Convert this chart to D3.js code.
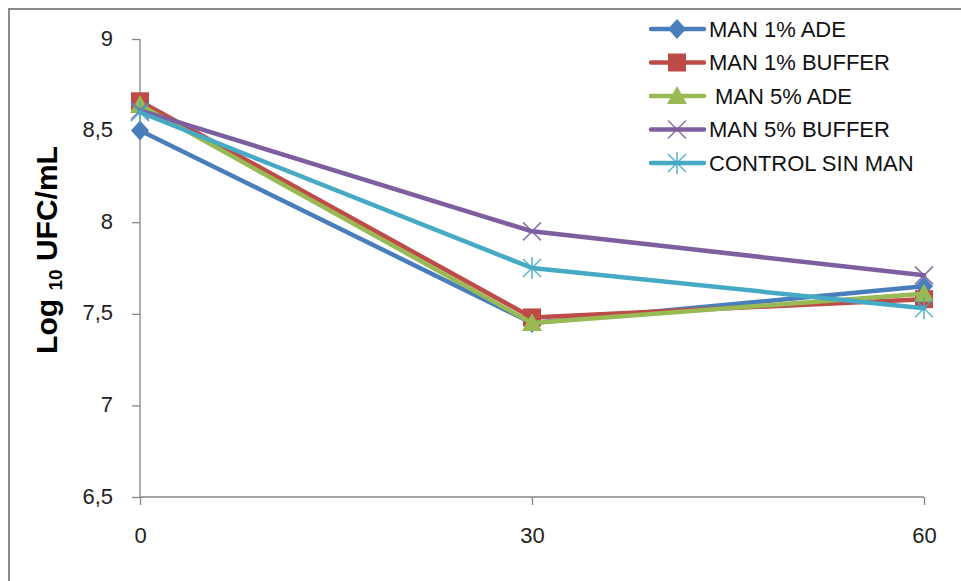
<!DOCTYPE html>
<html>
<head>
<meta charset="utf-8">
<script src="https://cdn.jsdelivr.net/npm/d3@7"></script>
<style>
  html, body { margin: 0; padding: 0; background: #fff; }
  svg { display: block; font-family: "Liberation Sans", Arial, sans-serif; }
</style>
</head>
<body>
<svg id="chart" width="961" height="581"></svg>
<script>
// Sampling times (min)
const times = [0, 30, 60];
const xTickLabels = ["0", "30", "60"];
const yTicks = [6.5, 7, 7.5, 8, 8.5, 9];

// Log10 UFC/mL for each treatment
const seriesNames = ["MAN 1% ADE", "MAN 1% BUFFER", " MAN 5% ADE", "MAN 5% BUFFER", "CONTROL SIN MAN"];
const man1Ade    = [8.50, 7.45, 7.65];
const man1Buffer = [8.66, 7.48, 7.58];
const man5Ade    = [8.64, 7.45, 7.61];
const man5Buffer = [8.61, 7.95, 7.71];
const control    = [8.60, 7.75, 7.53];

const colors  = ["#4A7EBB", "#BE4B48", "#98B954", "#7D5FA0", "#46AAC5"];
const markers = ["diamond", "square", "triangle", "x", "star"];

const series = [man1Ade, man1Buffer, man5Ade, man5Buffer, control].map((vals, i) => ({
  name: seriesNames[i], color: colors[i], marker: markers[i],
  points: vals.map((v, j) => ({ t: times[j], v }))
}));

const svg = d3.select("#chart");

// Outer chart frame
svg.append("rect")
  .attr("x", 9).attr("y", 9).attr("width", 1100).attr("height", 1100)
  .attr("fill", "none").attr("stroke", "#8a8a8a").attr("stroke-width", 2);

const x = d3.scaleLinear().domain([0, 60]).range([140, 924]);
const y = d3.scaleLinear().domain([6.5, 9]).range([497, 39]);

const axisColor = "#868686";

// Y axis
const yAxis = svg.append("g").attr("transform", `translate(${x(0)},0)`)
  .call(d3.axisLeft(y).tickValues(yTicks).tickSize(8).tickPadding(19)
    .tickFormat(d => String(d).replace(".", ",")));
yAxis.select(".domain").attr("stroke", axisColor).attr("stroke-width", 1.3)
  .attr("d", `M0,${y(9)}V${y(6.5)}`);
yAxis.selectAll(".tick line").attr("stroke", axisColor).attr("stroke-width", 1.3);
yAxis.selectAll(".tick text").attr("font-size", 22).attr("fill", "#222")
  .attr("font-family", "Liberation Sans, Arial, sans-serif").attr("dy", "0.28em");

// X axis
const xAxis = svg.append("g").attr("transform", `translate(0,${y(6.5)})`)
  .call(d3.axisBottom(x).tickValues(times).tickSize(8).tickPadding(22)
    .tickFormat((d, i) => xTickLabels[i]));
xAxis.select(".domain").attr("stroke", axisColor).attr("stroke-width", 1.3)
  .attr("d", `M${x(0)},0H${x(60)}`);
xAxis.selectAll(".tick line").attr("stroke", axisColor).attr("stroke-width", 1.3);
xAxis.selectAll(".tick text").attr("font-size", 22).attr("fill", "#222")
  .attr("font-family", "Liberation Sans, Arial, sans-serif");

// Y axis title
const title = svg.append("text")
  .attr("transform", `translate(57,250) rotate(-90)`)
  .attr("text-anchor", "middle")
  .attr("font-weight", "bold").attr("font-size", 30).attr("fill", "#000");
title.append("tspan").text("Log ");
title.append("tspan").attr("font-size", 19).attr("dy", 5).text("10");
title.append("tspan").attr("dy", -5).text(" UFC/mL");

// Marker drawing
function drawMarker(g, type, color, cx, cy) {
  if (type === "diamond") {
    g.append("path").attr("d", `M${cx},${cy-10}L${cx+9},${cy}L${cx},${cy+10}L${cx-9},${cy}Z`).attr("fill", color);
  } else if (type === "square") {
    g.append("rect").attr("x", cx-9).attr("y", cy-9).attr("width", 18).attr("height", 18).attr("fill", color);
  } else if (type === "triangle") {
    g.append("path").attr("d", `M${cx},${cy-10}L${cx+10},${cy+8}L${cx-10},${cy+8}Z`).attr("fill", color);
  } else if (type === "x") {
    g.append("path").attr("d", `M${cx-9},${cy-9}L${cx+9},${cy+9}M${cx+9},${cy-9}L${cx-9},${cy+9}`)
      .attr("stroke", color).attr("stroke-width", 1.6).attr("opacity", 0.85);
  } else if (type === "star") {
    g.append("path").attr("d", `M${cx-9},${cy-9}L${cx+9},${cy+9}M${cx+9},${cy-9}L${cx-9},${cy+9}M${cx},${cy-11}L${cx},${cy+11}`)
      .attr("stroke", color).attr("stroke-width", 1.6).attr("opacity", 0.85);
  }
}

const line = d3.line().x(d => x(d.t)).y(d => y(d.v));

// Series lines and markers
series.forEach(s => {
  const g = svg.append("g");
  g.append("path").datum(s.points).attr("d", line)
    .attr("fill", "none").attr("stroke", s.color).attr("stroke-width", 4.5)
    .attr("stroke-linejoin", "round").attr("stroke-linecap", "round");
  s.points.forEach(p => drawMarker(g, s.marker, s.color, x(p.t), y(p.v)));
});

// Legend
const legend = svg.append("g");
const legendRow = d3.scalePoint().domain(seriesNames).range([29, 163]);
series.forEach(s => {
  const ly = legendRow(s.name);
  const g = legend.append("g");
  g.append("line").attr("x1", 651).attr("x2", 704).attr("y1", ly).attr("y2", ly)
    .attr("stroke", s.color).attr("stroke-width", 4.5).attr("stroke-linecap", "round");
  drawMarker(g, s.marker, s.color, 677, ly);
  g.append("text").attr("x", 709).attr("y", ly).attr("dy", "0.36em")
    .attr("font-size", 22).attr("fill", "#111").attr("xml:space", "preserve")
    .style("white-space", "pre").text(s.name);
});
</script>
</body>
</html>
